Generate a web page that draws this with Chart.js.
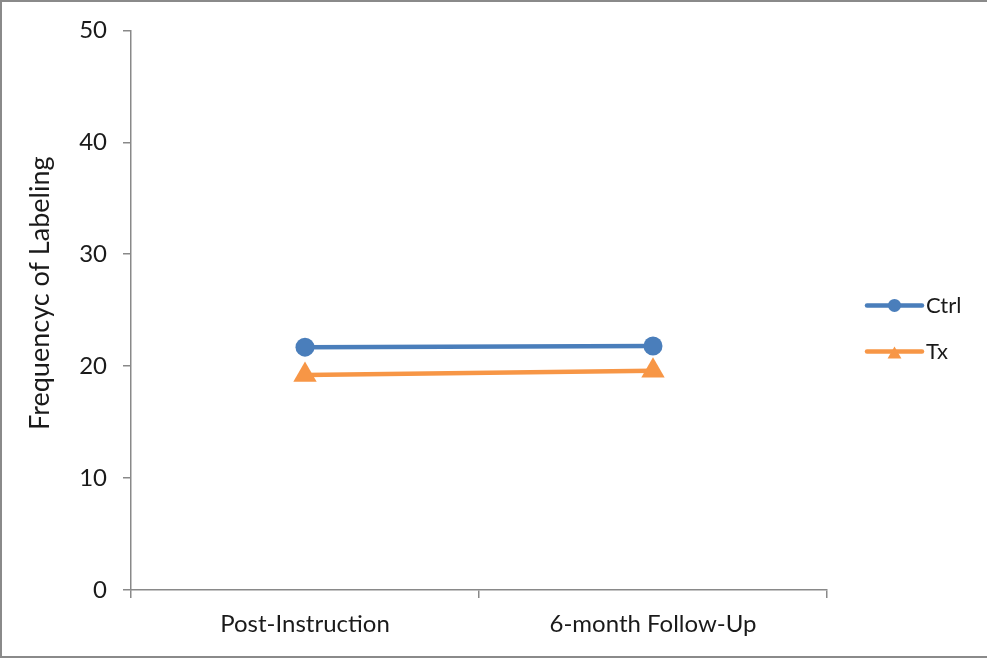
<!DOCTYPE html>
<html>
<head>
<meta charset="utf-8">
<script src="https://cdn.jsdelivr.net/npm/chart.js@4/dist/chart.umd.min.js"></script>
<style>
  html, body { margin: 0; padding: 0; background: #ffffff; }
  #wrap { width: 987px; height: 659px; position: relative; }
</style>
</head>
<body>
<div id="wrap"><canvas id="chart" width="987" height="659"></canvas></div>
<script>
// Categories and series values
const categories = ['Post-Instruction', '6-month Follow-Up'];
const ctrlValues = [21.7, 21.8];
const txValues = [19.2, 19.6];
const yTicks = [0, 10, 20, 30, 40, 50];
const yTitle = 'Frequencyc of Labeling';

const AXIS_GRAY = '#898989';
const TEXT_COLOR = '#1a1a1a';
const FONT = 'Lato, "Liberation Sans", sans-serif';

// Frame around the whole picture (top, left and bottom edges)
const framePlugin = {
  id: 'frame',
  beforeDraw(chart) {
    const c = chart.ctx;
    c.save();
    c.fillStyle = '#ffffff';
    c.fillRect(0, 0, chart.width, chart.height);
    c.strokeStyle = '#8a8a8a';
    c.lineWidth = 2;
    c.beginPath();
    c.moveTo(0, 1); c.lineTo(chart.width, 1);
    c.moveTo(1, 0); c.lineTo(1, chart.height - 2);
    c.moveTo(0, chart.height - 2); c.lineTo(chart.width, chart.height - 2);
    c.stroke();
    c.restore();
  }
};

// Vertical axis title, set a little above the middle of the plot
const axisTitle = {
  id: 'axisTitle',
  afterDraw(chart) {
    const c = chart.ctx;
    const area = chart.chartArea;
    c.save();
    c.translate(40, (area.top + area.bottom) / 2 - 17);
    c.rotate(-Math.PI / 2);
    c.fillStyle = TEXT_COLOR;
    c.font = '27px ' + FONT;
    c.textAlign = 'center';
    c.textBaseline = 'middle';
    c.fillText(yTitle, 0, 0);
    c.restore();
  }
};

// Legend drawn as a short line with the series marker in its middle
const lineLegend = {
  id: 'lineLegend',
  afterDraw(chart) {
    const c = chart.ctx;
    const area = chart.chartArea;
    const x0 = area.right + 40;
    const x1 = x0 + 55;
    const rowY = [area.top + 275, area.top + 321];
    chart.data.datasets.forEach((ds, i) => {
      const y = rowY[i];
      const mx = (x0 + x1) / 2;
      c.save();
      c.strokeStyle = ds.borderColor;
      c.lineWidth = 4.5;
      c.lineCap = 'round';
      c.beginPath();
      c.moveTo(x0, y); c.lineTo(x1, y);
      c.stroke();
      c.fillStyle = ds.backgroundColor;
      c.beginPath();
      if (ds.pointStyle === 'triangle') {
        const r = 8;
        c.moveTo(mx, y + 3 - r);
        c.lineTo(mx + r * 0.866, y + 3 + r * 0.5);
        c.lineTo(mx - r * 0.866, y + 3 + r * 0.5);
        c.closePath();
      } else {
        c.arc(mx, y, 6.5, 0, Math.PI * 2);
      }
      c.fill();
      c.fillStyle = TEXT_COLOR;
      c.font = '22px ' + FONT;
      c.textBaseline = 'middle';
      c.textAlign = 'left';
      c.fillText(ds.label, x1 + 4, y + 1);
      c.restore();
    });
  }
};

new Chart(document.getElementById('chart'), {
  type: 'line',
  data: {
    labels: categories,
    datasets: [
      {
        label: 'Ctrl',
        data: ctrlValues,
        borderColor: '#4a7ebb',
        backgroundColor: '#4a7ebb',
        borderWidth: 4.5,
        pointStyle: 'circle',
        pointRadius: 9.5,
        pointHoverRadius: 9.5,
        pointBorderWidth: 0,
        tension: 0
      },
      {
        label: 'Tx',
        data: txValues,
        borderColor: '#f79646',
        backgroundColor: '#f79646',
        borderWidth: 4.5,
        pointStyle: 'triangle',
        pointRadius: 13.5,
        pointHoverRadius: 13.5,
        pointBorderWidth: 0,
        tension: 0
      }
    ]
  },
  options: {
    responsive: false,
    animation: false,
    events: [],
    layout: { padding: { top: 30, right: 160, left: 0, bottom: 0 } },
    plugins: {
      legend: { display: false },
      tooltip: { enabled: false }
    },
    scales: {
      x: {
        type: 'category',
        offset: true,
        grid: {
          offset: true,
          drawOnChartArea: false,
          drawTicks: true,
          tickLength: 8,
          color: AXIS_GRAY,
          lineWidth: 1.5
        },
        border: { color: AXIS_GRAY, width: 1.5 },
        ticks: {
          color: TEXT_COLOR,
          font: { family: FONT, size: 24 },
          padding: 12,
          maxRotation: 0,
          autoSkip: false
        },
        afterFit(scale) { scale.height = 69; }
      },
      y: {
        min: 0,
        max: 50,
        afterBuildTicks(scale) {
          scale.ticks = yTicks.map(v => ({ value: v }));
        },
        grid: {
          drawOnChartArea: false,
          drawTicks: true,
          tickLength: 8,
          color: AXIS_GRAY,
          lineWidth: 1.5
        },
        border: { color: AXIS_GRAY, width: 1.5 },
        ticks: {
          color: TEXT_COLOR,
          font: { family: FONT, size: 24 },
          padding: 16
        },
        afterFit(scale) { scale.width = 131; }
      }
    }
  },
  plugins: [framePlugin, axisTitle, lineLegend]
});
</script>
</body>
</html>
